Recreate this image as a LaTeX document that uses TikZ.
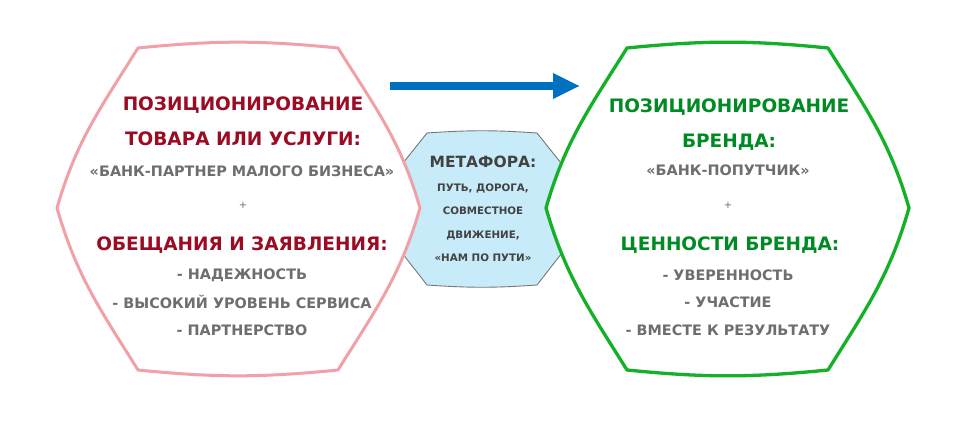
\documentclass[tikz,border=0pt]{standalone}
\usepackage{fontspec}
\setmainfont{DejaVu Sans}
\usetikzlibrary{arrows.meta}
\definecolor{pinkline}{RGB}{242,160,168}
\definecolor{greenline}{RGB}{20,176,40}
\definecolor{redtext}{RGB}{155,12,36}
\definecolor{greentext}{RGB}{0,138,36}
\definecolor{graytext}{RGB}{110,110,110}
\definecolor{midtext}{RGB}{66,66,66}
\definecolor{midfill}{RGB}{200,235,250}
\definecolor{midline}{RGB}{120,120,120}
\definecolor{arrowblue}{RGB}{0,112,192}
\tikzset{
  bigshape/.style={line width=3pt, fill=white, line join=round},
  midshape/.style={line width=0.9pt, draw=midline, fill=midfill, line join=round},
  headred/.style={font=\fontsize{18.5}{20}\selectfont\bfseries, text=redtext, inner sep=0pt},
  headgreen/.style={font=\fontsize{18.5}{20}\selectfont\bfseries, text=greentext, inner sep=0pt},
  subgray/.style={font=\fontsize{14.4}{16}\selectfont\bfseries, text=graytext, inner sep=0pt},
  plustext/.style={font=\fontsize{10}{12}\selectfont, text=graytext, inner sep=0pt},
  midhead/.style={font=\fontsize{15.5}{17}\selectfont\bfseries, text=midtext, inner sep=0pt},
  midsub/.style={font=\fontsize{10.3}{12}\selectfont\bfseries, text=midtext, inner sep=0pt},
}
\begin{document}
\begin{tikzpicture}[x=1pt,y=-1pt]
\useasboundingbox (0,0) rectangle (980,428);
% middle shape (its side vertices lie hidden under the two big shapes)
\draw[midshape] (427,133) to[bend left=4] (537,133) -- (597,208) -- (537,285)
  to[bend left=4] (427,285) -- (367,208) -- cycle;
% left shape
\draw[bigshape, draw=pinkline] (138,48) to[bend left=5.7] (338,48) to[out=-58, in=106] (420,208)
  to[out=-106, in=58] (338,370) to[bend left=5.7] (138,370) to[out=122, in=-74] (57,208)
  to[out=74, in=-122] (138,48) -- cycle;
% right shape
\draw[bigshape, draw=greenline, line width=3.3pt] (627,48) to[bend left=5.7] (828,48) to[out=-58, in=106] (909,208)
  to[out=-106, in=58] (828,370) to[bend left=5.7] (627,370) to[out=122, in=-74] (546,208)
  to[out=74, in=-122] (627,48) -- cycle;
% arrow
\coordinate (arrowstart) at (390,86);
\coordinate (arrowend) at (580,86);
\draw[arrowblue, line width=8pt, -{Triangle[length=27pt, width=24pt]}] (arrowstart) -- (arrowend);
% left text
\node[headred] (l1) at (243,105) {ПОЗИЦИОНИРОВАНИЕ};
\node[headred] (l2) at (243,139) {ТОВАРА ИЛИ УСЛУГИ:};
\node[subgray] (l3) at (242,171) {«БАНК-ПАРТНЕР МАЛОГО БИЗНЕСА»};
\node[plustext] (l4) at (243,205) {+};
\node[headred] (l5) at (242,245) {ОБЕЩАНИЯ И ЗАЯВЛЕНИЯ:};
\node[subgray] (l6) at (242,275) {- НАДЕЖНОСТЬ};
\node[subgray] (l7) at (242,302) {- ВЫСОКИЙ УРОВЕНЬ СЕРВИСА};
\node[subgray] (l8) at (242,330) {- ПАРТНЕРСТВО};
% right text
\node[headgreen] (r1) at (729,107) {ПОЗИЦИОНИРОВАНИЕ};
\node[headgreen] (r2) at (729,142) {БРЕНДА:};
\node[subgray] (r3) at (728,170) {«БАНК-ПОПУТЧИК»};
\node[plustext] (r4) at (728,205) {+};
\node[headgreen] (r5) at (730,245) {ЦЕННОСТИ БРЕНДА:};
\node[subgray] (r6) at (728,275) {- УВЕРЕННОСТЬ};
\node[subgray] (r7) at (728,302) {- УЧАСТИЕ};
\node[subgray] (r8) at (728,330) {- ВМЕСТЕ К РЕЗУЛЬТАТУ};
% middle text
\node[midhead] (m1) at (483,162) {МЕТАФОРА:};
\node[midsub] (m2) at (483,188) {ПУТЬ, ДОРОГА,};
\node[midsub] (m3) at (483,211) {СОВМЕСТНОЕ};
\node[midsub] (m4) at (483,236) {ДВИЖЕНИЕ,};
\node[midsub] (m5) at (483,258) {«НАМ ПО ПУТИ»};
\end{tikzpicture}
\end{document}
